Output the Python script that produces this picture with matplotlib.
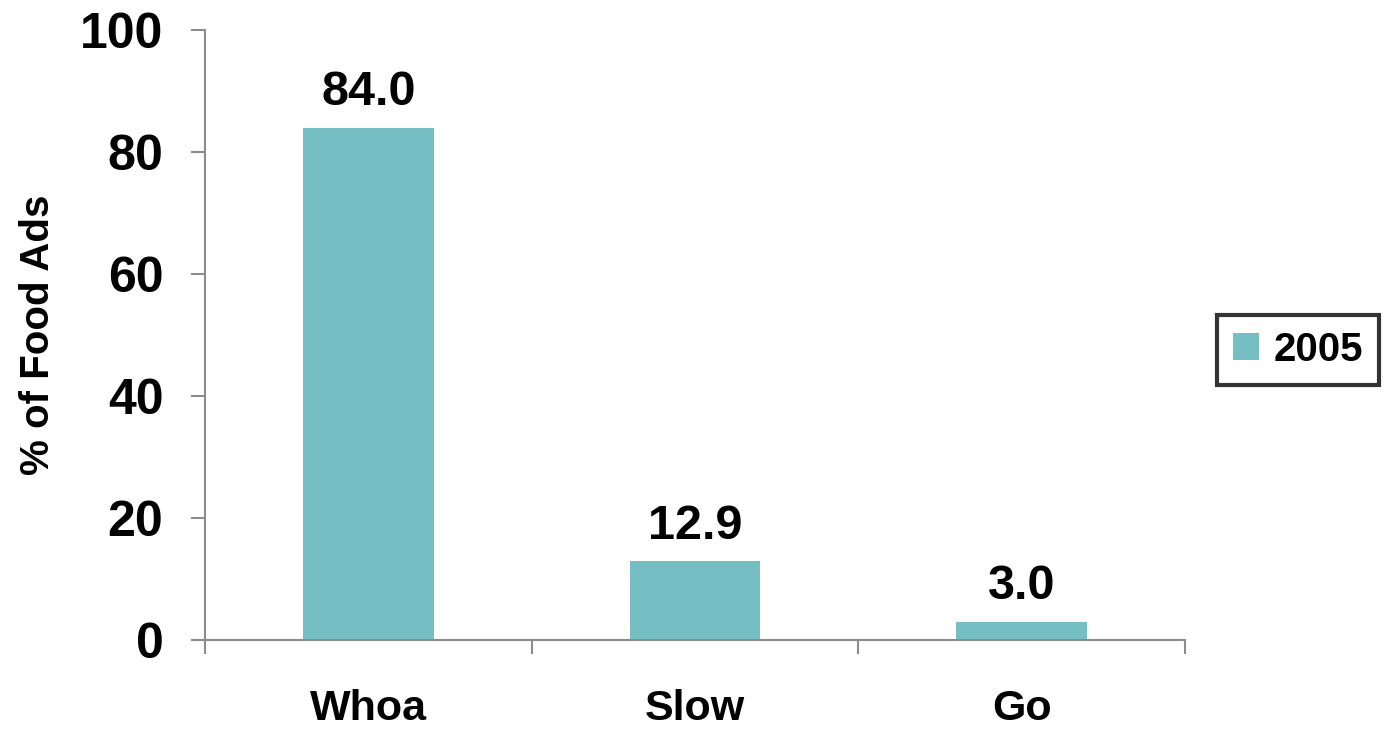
import matplotlib
matplotlib.use("Agg")
import matplotlib.pyplot as plt
from matplotlib.patches import Patch

categories = ["Whoa", "Slow", "Go"]
values = [84.0, 12.9, 3.0]
series_name = "2005"
yticks = [0, 20, 40, 60, 80, 100]

color = "#75BFC4"
axis_color = "#8C8C8C"
font = ["Liberation Sans", "DejaVu Sans"]
plt.rcParams["font.family"] = font
plt.rcParams["font.weight"] = "bold"

fig = plt.figure(figsize=(13.85, 7.3), dpi=100)
ax = fig.add_axes([205/1385, 1-640/730, (1185-205)/1385, (640-30)/730])

x = list(range(len(categories)))
bars = ax.bar(x, values, width=0.4, color=color, zorder=2)
for xi, v in zip(x, values):
    ax.annotate(f"{v:.1f}", (xi, v), xytext=(0, 9), textcoords="offset points",
                ha="center", va="bottom", fontsize=35, fontweight="bold")

ax.set_xlim(-0.5, len(categories) - 0.5)
ax.set_ylim(0, 100)
ax.set_yticks(yticks)
ax.set_yticklabels([str(t) for t in yticks], fontsize=36, fontweight="bold")
ax.set_xticks(x)
ax.set_xticklabels(categories, fontsize=31, fontweight="bold")
ax.tick_params(axis="x", length=0, pad=35)
ax.set_xticks([i - 0.5 for i in range(len(categories) + 1)], minor=True)
ax.tick_params(axis="x", which="minor", length=10, width=1.5, color=axis_color, direction="out")
ax.tick_params(axis="y", length=10, width=1.5, color=axis_color, direction="out", pad=20)

for s in ["top", "right"]:
    ax.spines[s].set_visible(False)
for s in ["left", "bottom"]:
    ax.spines[s].set_color(axis_color)
    ax.spines[s].set_linewidth(1.5)

ax.set_ylabel("% of Food Ads", fontsize=29, fontweight="bold")
ax.yaxis.set_label_coords(-0.151, 0.5)

leg = fig.legend(handles=[Patch(facecolor=color, label=series_name)],
                 loc="center", bbox_to_anchor=(1298/1385, 1-350/730),
                 frameon=True, fancybox=False, edgecolor="black",
                 handlelength=0.65, handleheight=0.65, handletextpad=0.35,
                 borderpad=0.4, prop={"weight": "bold", "size": 29})
leg.get_frame().set_linewidth(3)

fig.savefig("out.png", dpi=100)
